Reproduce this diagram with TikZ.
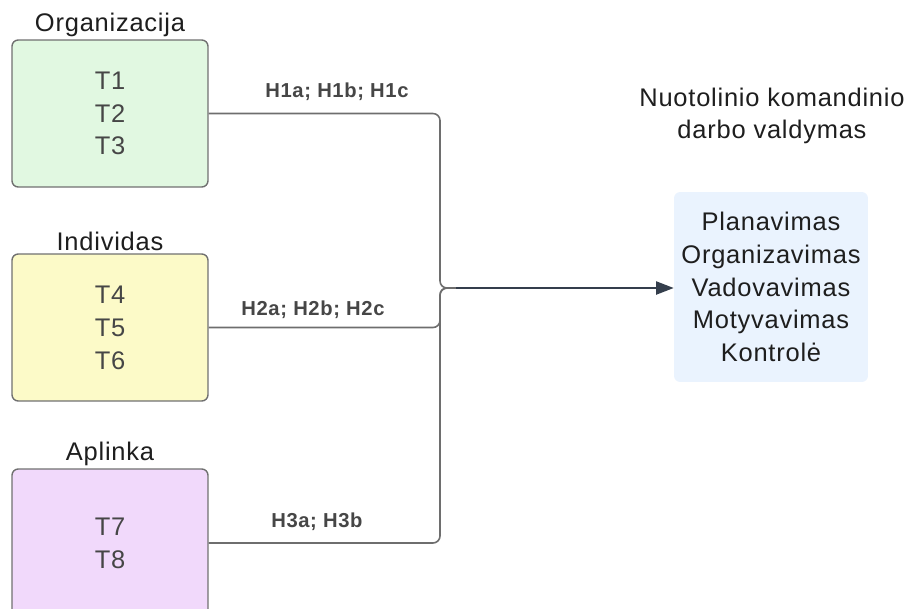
\documentclass[tikz,border=0pt]{standalone}
\usepackage{fontspec}
\setmainfont{Liberation Sans}[LetterSpace=3]
\usetikzlibrary{arrows.meta, positioning}

\definecolor{orgfill}{RGB}{225,248,225}
\definecolor{indfill}{RGB}{252,250,200}
\definecolor{envfill}{RGB}{241,217,251}
\definecolor{planfill}{RGB}{234,243,254}
\definecolor{boxline}{RGB}{112,112,112}
\definecolor{boxtext}{RGB}{70,70,70}
\definecolor{titletext}{RGB}{30,30,30}
\definecolor{linkgray}{RGB}{110,110,110}
\definecolor{arrowdark}{RGB}{52,62,76}

\begin{document}
\begin{tikzpicture}[
  x=0.02cm, y=-0.02cm,
  box/.style={draw=boxline, line width=0.8pt, rounded corners=3.5pt,
    minimum width=3.92cm, minimum height=2.94cm, align=center,
    text=boxtext, font=\fontsize{14.5}{18.7}\selectfont},
  title/.style={font=\fontsize{14.5}{18}\selectfont, text=titletext, inner sep=1pt},
  hyp/.style={font=\bfseries\fontsize{11.5}{13}\selectfont, text=boxtext},
  link/.style={draw=linkgray, line width=0.9pt, rounded corners=4pt},
  arrowline/.style={draw=arrowdark, line width=0.9pt, -{Triangle[length=10pt, width=7.5pt]}}]

  \clip (0,0) rectangle (907,609);

  % factor groups
  \node[box, fill=orgfill] (org) at (110,113.5) {T1\\T2\\T3};
  \node[box, fill=indfill] (ind) at (110,327.5) {T4\\T5\\T6};
  \node[box, fill=envfill, minimum height=2.96cm] (env) at (110,543) {T7\\T8};

  \node[title, above=0pt of org] (orgtitle) {Organizacija};
  \node[title, above=0pt of ind] (indtitle) {Individas};
  \node[title, above=0pt of env] (envtitle) {Aplinka};

  % management box
  \node[fill=planfill, rounded corners=3.5pt, minimum width=3.88cm,
    minimum height=3.8cm, align=center, text=titletext,
    font=\fontsize{14.5}{18.7}\selectfont] (plan) at (771,287)
    {Planavimas\\Organizavimas\\Vadovavimas\\Motyvavimas\\Kontrolė};
  \node[title, align=center, font=\fontsize{14.5}{18.2}\selectfont] (plantitle) at (772,116)
    {Nuotolinio komandinio\\darbo valdymas};

  % connectors
  \coordinate (hub) at (440,288);
  \coordinate (hubend) at (456,288);
  \draw[link] (org.east) -| (hub) -- (hubend);
  \draw[link] (ind.east) -| (hub) -- (hubend);
  \draw[link] (env.east) -| (hub) -- (hubend);
  \draw[arrowline] (hubend) -- (plan.west |- hub);

  \node[hyp] (h1) at (337,92) {H1a; H1b; H1c};
  \node[hyp] (h2) at (313,310) {H2a; H2b; H2c};
  \node[hyp] (h3) at (317,522) {H3a; H3b};
\end{tikzpicture}
\end{document}
